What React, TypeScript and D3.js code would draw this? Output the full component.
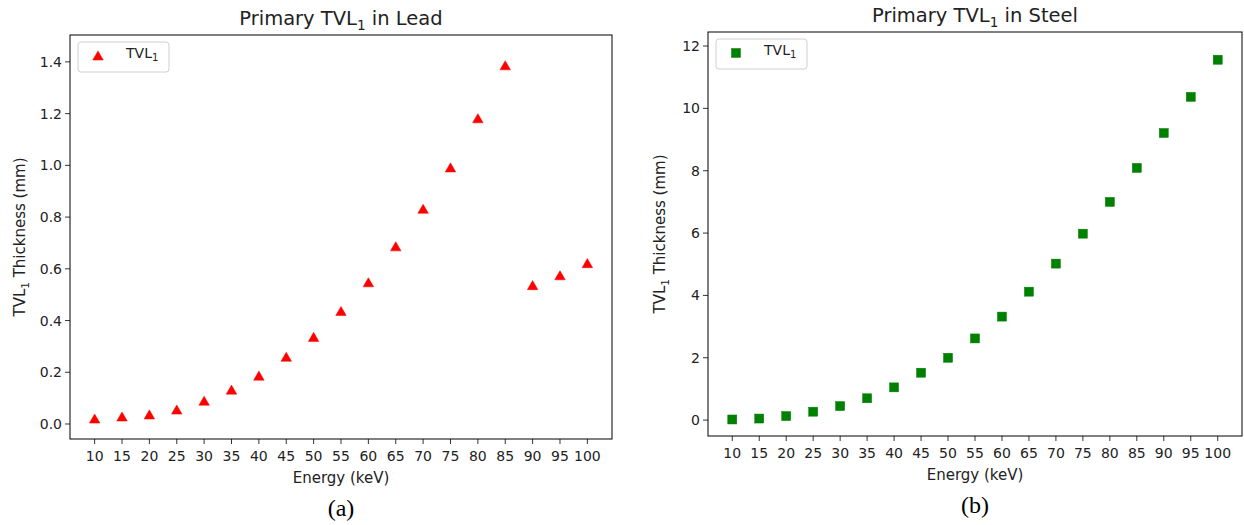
import React from "react";
import * as d3 from "d3";

const energies = ["10","15","20","25","30","35","40","45","50","55","60","65","70","75","80","85","90","95","100"];
const leadTVL = [0.019,0.027,0.035,0.054,0.088,0.131,0.185,0.258,0.335,0.435,0.546,0.685,0.83,0.99,1.18,1.385,0.535,0.573,0.62];
const steelTVL = [0.02,0.05,0.13,0.27,0.45,0.7,1.05,1.52,2.0,2.62,3.32,4.12,5.02,5.98,7.0,8.09,9.21,10.37,11.56];
const leadTicks = [0.0,0.2,0.4,0.6,0.8,1.0,1.2,1.4];
const steelTicks = [0,2,4,6,8,10,12];

const FONT = "DejaVu Sans, sans-serif";
const TXT = "#222";
const TICK_FS = 14;
const LABEL_FS = 15;
const TITLE_FS = 19.5;

type PanelProps = {
  title: string;
  caption: string;
  values: number[];
  ticks: number[];
  tickFmt: (v: number) => string;
  yDomain: [number, number];
  left: number; right: number; top: number; bottom: number;
  color: string;
  marker: "tri" | "sq";
  ylabelX: number;
};

function Sub({ base, rest, size }: { base: string; rest: string; size: number }) {
  return (
    <>
      {base}
      <tspan fontSize={size * 0.7} dy={size * 0.25}>1</tspan>
      <tspan dy={-size * 0.25}>{rest}</tspan>
    </>
  );
}

function Marker({ kind, x, y, color }: { kind: "tri" | "sq"; x: number; y: number; color: string }) {
  if (kind === "tri") {
    const s = d3.symbol().type(d3.symbolTriangle).size(48)();
    return <path d={s || ""} transform={`translate(${x},${y + 1})`} fill={color} stroke={color} strokeWidth={0.5} />;
  }
  return <rect x={x - 4.5} y={y - 4.5} width={9} height={9} fill={color} stroke={color} strokeWidth={0.5} />;
}

function Panel(p: PanelProps) {
  const x = d3.scalePoint<string>().domain(energies).range([p.left, p.right]).padding(0.9);
  const y = d3.scaleLinear().domain(p.yDomain).range([p.bottom, p.top]);
  const cx = (p.left + p.right) / 2;
  const cy = (p.top + p.bottom) / 2;
  return (
    <g fontFamily={FONT}>
      <text x={cx} y={p.top - 10} textAnchor="middle" fontSize={TITLE_FS} fill={TXT}>
        <Sub base="Primary TVL" rest=" in " size={TITLE_FS} />
        {p.title}
      </text>
      <rect x={p.left} y={p.top} width={p.right - p.left} height={p.bottom - p.top} fill="white" stroke="black" strokeWidth={1} />
      {p.ticks.map((t) => (
        <g key={t}>
          <line x1={p.left - 5} x2={p.left} y1={y(t)} y2={y(t)} stroke="black" strokeWidth={0.8} />
          <text x={p.left - 8} y={y(t)} dy="0.36em" textAnchor="end" fontSize={TICK_FS} fill={TXT}>{p.tickFmt(t)}</text>
        </g>
      ))}
      {energies.map((e) => (
        <g key={e}>
          <line x1={x(e)} x2={x(e)} y1={p.bottom} y2={p.bottom + 5} stroke="black" strokeWidth={0.8} />
          <text x={x(e)} y={p.bottom + 22} textAnchor="middle" fontSize={TICK_FS} fill={TXT}>{e}</text>
        </g>
      ))}
      <text x={cx} y={p.bottom + 44} textAnchor="middle" fontSize={LABEL_FS} fill={TXT}>Energy (keV)</text>
      <text transform={`translate(${p.ylabelX},${cy}) rotate(-90)`} textAnchor="middle" fontSize={LABEL_FS} fill={TXT}>
        <Sub base="TVL" rest=" Thickness (mm)" size={LABEL_FS} />
      </text>
      {p.values.map((v, i) => (
        <Marker key={i} kind={p.marker} x={x(energies[i])!} y={y(v)} color={p.color} />
      ))}
      <rect x={p.left + 8} y={p.top + 7} width={91} height={30} rx={3} fill="white" fillOpacity={0.8} stroke="#d0d0d0" strokeWidth={1} />
      <Marker kind={p.marker} x={p.left + 28} y={p.top + 21} color={p.color} />
      <text x={p.left + 56} y={p.top + 23} fontSize={TICK_FS} fill={TXT}>
        TVL<tspan fontSize={10} dy={3}>1</tspan>
      </text>
      <text x={cx} y={p.bottom + 77} textAnchor="middle" fontSize={24} fontFamily="Liberation Serif, Times New Roman, serif" fill="black">{p.caption}</text>
    </g>
  );
}

export default function App() {
  return (
    <svg width={1244} height={525} style={{ position: "absolute", left: 0, top: 0, background: "white" }}>
      <rect width={1244} height={525} fill="white" />
      <Panel title="Lead" caption="(a)" values={leadTVL} ticks={leadTicks} tickFmt={(v) => v.toFixed(1)}
        yDomain={[-0.058, 1.504]} left={70} right={612} top={35} bottom={439}
        color="#ff0000" marker="tri" ylabelX={25} />
      <Panel title="Steel" caption="(b)" values={steelTVL} ticks={steelTicks} tickFmt={(v) => String(v)}
        yDomain={[-0.51, 12.45]} left={708} right={1242} top={32} bottom={436}
        color="#008000" marker="sq" ylabelX={665} />
    </svg>
  );
}
